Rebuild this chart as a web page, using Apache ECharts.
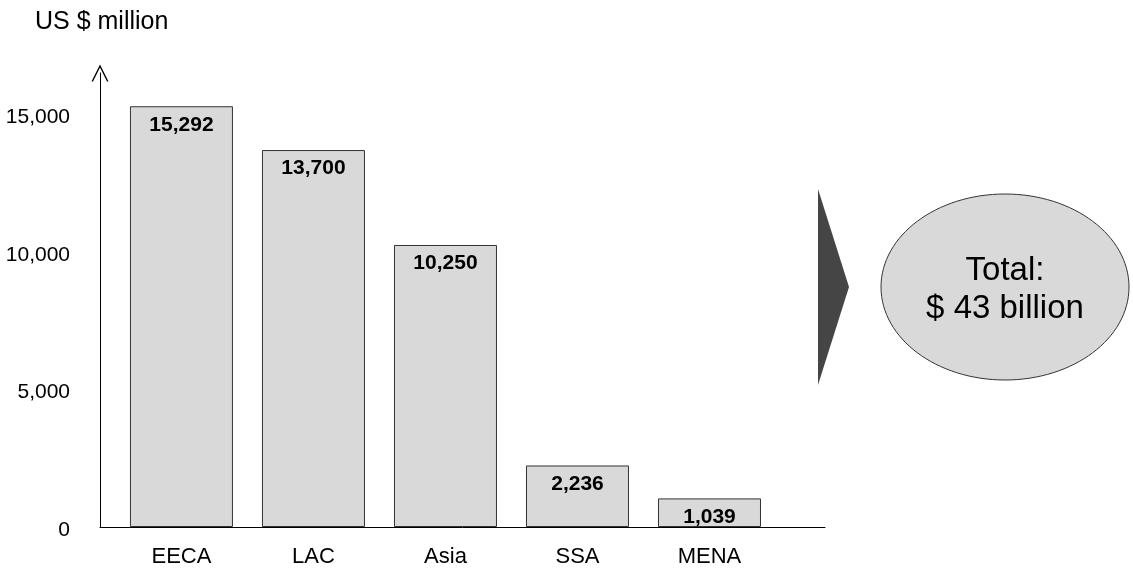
<!DOCTYPE html>
<html>
<head>
<meta charset="utf-8">
<title>Regional totals</title>
<script src="https://cdn.jsdelivr.net/npm/echarts@6/dist/echarts.min.js"></script>
<style>
  html, body { margin: 0; padding: 0; background: #fff; }
  #chart { width: 1133px; height: 570px; }
</style>
</head>
<body>
<div id="chart"></div>
<script>
// data
var regions = ['EECA', 'LAC', 'Asia', 'SSA', 'MENA']
var amounts = [15292, 13700, 10250, 2236, 1039]
var yTicks = [0, 5000, 10000, 15000]
var unitName = 'US $ million'
var totalLines = ['Total:', '$ 43 billion']

var font = 'Liberation Sans, Arial, sans-serif'
var chart = echarts.init(document.getElementById('chart'))

// bars sit on a value axis so the first bar can start away from the y axis
var barData = amounts.map(function (v, i) { return [i, v] })

var options = {
  animation: false,
  textStyle: { fontFamily: font },
  grid: {
    left: 100,
    right: 308,
    top: 73,
    bottom: 43,
    outerBoundsMode: 'none'
  },
  xAxis: {
    type: 'value',
    min: -0.617,
    max: 4.875,
    splitLine: { show: false },
    axisTick: { show: false },
    axisLine: { show: true, lineStyle: { color: '#000', width: 1 } },
    axisLabel: {
      customValues: regions.map(function (r, i) { return i }),
      formatter: function (v) { return regions[v] },
      color: '#000',
      fontSize: 22,
      fontFamily: font,
      margin: 19
    }
  },
  yAxis: {
    type: 'value',
    min: 0,
    max: 16500,
    interval: 5000,
    splitLine: { show: false },
    axisTick: { show: false },
    axisLine: {
      show: true,
      onZero: false,
      lineStyle: { color: '#000', width: 1 },
      symbol: ['none', 'path://M0,10 L5,0 L10,10 L9.1,10 L5,1.8 L0.9,10 Z'],
      symbolSize: [19, 17]
    },
    axisLabel: {
      customValues: yTicks,
      // rich text with top padding nudges the labels a few px down, as in the original
      formatter: function (v) { return '{t|' + v.toLocaleString('en-US') + '}' },
      rich: {
        t: { fontSize: 21, fontFamily: font, color: '#000', padding: [6, 0, 0, 0] }
      },
      color: '#000',
      fontSize: 21,
      fontFamily: font,
      margin: 30
    }
  },
  series: [
    {
      type: 'bar',
      data: barData,
      barWidth: 103,
      itemStyle: {
        color: '#d9d9d9',
        borderColor: '#333',
        borderWidth: 1
      },
      label: {
        show: true,
        position: 'insideTop',
        distance: 8,
        color: '#000',
        fontWeight: 'bold',
        fontSize: 21,
        fontFamily: font,
        formatter: function (p) { return p.value[1].toLocaleString('en-US') }
      }
    }
  ],
  graphic: [
    {
      type: 'text',
      left: 35,
      top: 10,
      style: { text: unitName, fontSize: 25, fontFamily: font, fill: '#000' }
    },
    {
      type: 'polygon',
      shape: { points: [[818, 189], [849, 287], [818, 385]] },
      style: { fill: '#454545' }
    },
    {
      type: 'ellipse',
      shape: { cx: 1005, cy: 287, rx: 124, ry: 93 },
      style: { fill: '#d9d9d9', stroke: '#333', lineWidth: 1 }
    },
    {
      type: 'text',
      x: 1005,
      y: 290,
      style: {
        text: totalLines.join('\n'),
        fontSize: 33,
        lineHeight: 38,
        fontFamily: font,
        fill: '#000',
        align: 'center',
        verticalAlign: 'middle'
      }
    }
  ]
}

chart.setOption(options)
</script>
</body>
</html>
